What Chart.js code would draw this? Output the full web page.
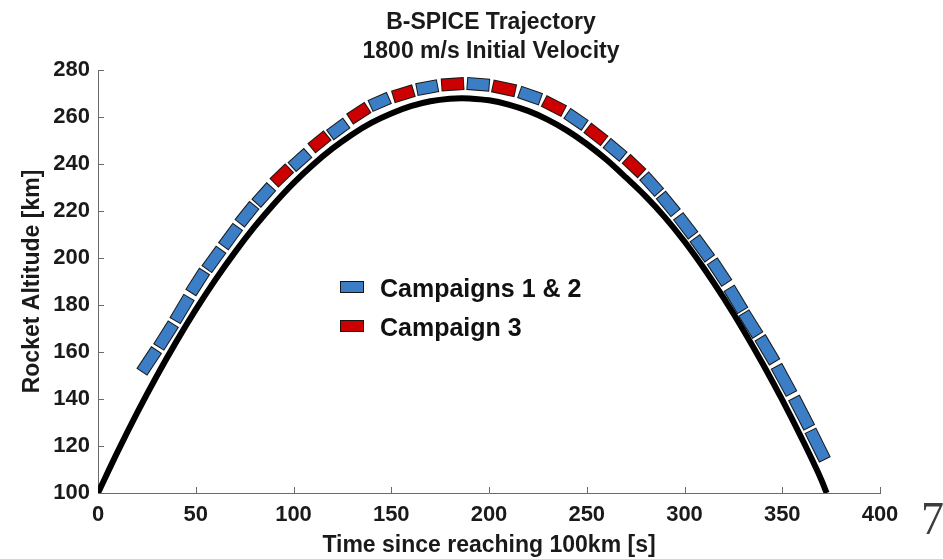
<!DOCTYPE html>
<html>
<head>
<meta charset="utf-8">
<script src="https://cdn.jsdelivr.net/npm/chart.js@4.4.1/dist/chart.umd.min.js"></script>
<style>
  html, body { margin: 0; padding: 0; background: #ffffff; }
  #wrap { position: relative; width: 943px; height: 559px; overflow: hidden; background: #fff; }
  #c { position: absolute; left: 0; top: 0; }
  #slideNo { position: absolute; left: 921px; top: 496px; font-family: "Liberation Serif", "DejaVu Serif", serif;
             font-size: 46px; line-height: 1; color: #3c3c3c; }
</style>
</head>
<body>
<div id="wrap">
  <canvas id="c" width="943" height="559"></canvas>
  <div id="slideNo">7</div>
</div>
<script>
// ---------------- data ----------------
const titleLines = ['B-SPICE Trajectory', '1800 m/s Initial Velocity'];
const xAxisTitle = 'Time since reaching 100km [s]';
const yAxisTitle = 'Rocket Altitude [km]';
const xTicks = [0, 50, 100, 150, 200, 250, 300, 350, 400];
const yTicks = [100, 120, 140, 160, 180, 200, 220, 240, 260, 280];
const seriesLabels = ['Campaigns 1 & 2', 'Campaign 3'];

// black trajectory curve: time [s] and altitude [km]
const trajTime = [0, 10, 20, 30, 40, 50, 60, 70, 80, 90, 100, 110, 120, 130, 140, 150, 160, 170, 180, 186,
                  190, 200, 210, 220, 230, 240, 250, 260, 270, 280, 290, 300, 310, 320, 330, 340, 350, 360, 370, 372.7];
const trajAlt  = [100, 117.5, 134.1, 149.7, 164.3, 178.0, 190.7, 202.4, 213.2, 223.0, 231.9, 239.7, 246.6, 252.6,
                  257.6, 261.5, 264.6, 266.7, 267.8, 268.0, 267.9, 267.1, 265.3, 262.6, 258.9, 254.2, 248.5, 241.9,
                  234.3, 226.3, 217.3, 207.0, 195.5, 183.0, 169.5, 155.0, 139.6, 123.2, 105.6, 100];

// measurement segments (box centres) along the trajectory
const boxTime = [26.2, 34.8, 43.0, 51.0, 59.3, 67.8, 76.2, 84.8, 94.0, 103.3, 113.3, 122.9, 133.4, 144.1, 156.2,
                 168.4, 181.4, 194.5, 207.7, 221.0, 233.2, 244.5, 254.7, 264.5, 274.2, 283.2, 291.7, 300.6, 309.1,
                 317.9, 326.3, 333.9, 342.4, 350.9, 359.9, 368.1];
const boxAlt  = [156.2, 167.0, 178.3, 189.8, 199.4, 209.1, 218.6, 226.8, 235.1, 241.7, 249.4, 254.9, 261.6, 266.4,
                 269.9, 272.5, 273.9, 273.9, 272.2, 269.1, 264.7, 259.0, 252.6, 246.0, 239.1, 231.4, 223.0, 213.7,
                 204.1, 194.0, 182.4, 171.9, 160.9, 148.1, 134.2, 120.4];
// campaign of each segment: 1 = Campaigns 1 & 2, 3 = Campaign 3
const boxCampaign = [1, 1, 1, 1, 1, 1, 1, 1, 3, 1, 3, 1, 3, 1, 3, 1, 3, 1, 3, 1, 3, 1, 3, 1, 3,
                     1, 1, 1, 1, 1, 1, 1, 1, 1, 1, 1];

// ---------------- styling ----------------
const SANS = '"Liberation Sans", Arial, Helvetica, sans-serif';
const campaignColor = { 1: '#3b7ec6', 3: '#cc0000' };
const BOX_THICK = 13;
const BOX_GAP = 3;

function boxGeom(chart, k) {
  const xs = chart.scales.x, ys = chart.scales.y;
  const n = boxTime.length;
  const px = i => xs.getPixelForValue(boxTime[i]);
  const py = i => ys.getPixelForValue(boxAlt[i]);
  const a = Math.max(0, k - 1), b = Math.min(n - 1, k + 1);
  const ang = Math.atan2(py(b) - py(a), px(b) - px(a)) * 180 / Math.PI;
  const d = [];
  if (k > 0) d.push(Math.hypot(px(k) - px(k - 1), py(k) - py(k - 1)));
  if (k < n - 1) d.push(Math.hypot(px(k + 1) - px(k), py(k + 1) - py(k)));
  const avg = d.reduce((s, v) => s + v, 0) / d.length;
  const len = Math.min(avg - BOX_GAP, Math.min(...d) - 2);
  return { ang, len };
}

const imgCache = {};
function boxImage(color, len) {
  const L = Math.max(6, Math.round(len)), T = BOX_THICK;
  const key = color + '_' + L;
  if (imgCache[key]) return imgCache[key];
  const c = document.createElement('canvas');
  c.width = L; c.height = T;
  const g = c.getContext('2d');
  g.fillStyle = color; g.fillRect(0, 0, L, T);
  g.strokeStyle = '#151515'; g.lineWidth = 1; g.strokeRect(0.5, 0.5, L - 1, T - 1);
  imgCache[key] = c;
  return c;
}

function boxDataset(campaign, label) {
  return {
    type: 'scatter',
    label: label,
    data: boxTime.map((t, k) => ({ x: t, y: boxAlt[k], k: k })).filter(p => boxCampaign[p.k] === campaign),
    backgroundColor: campaignColor[campaign],
    borderColor: '#151515',
    pointRadius: 10,
    pointStyle: ctx => {
      const p = ctx.raw;
      if (!p || !ctx.chart.scales.x) return 'rect';
      return boxImage(campaignColor[campaign], boxGeom(ctx.chart, p.k).len);
    },
    pointRotation: ctx => {
      const p = ctx.raw;
      if (!p || !ctx.chart.scales.x) return 0;
      return boxGeom(ctx.chart, p.k).ang;
    }
  };
}

const trajDataset = {
  type: 'line',
  label: 'Trajectory',
  data: trajTime.map((t, i) => ({ x: t, y: trajAlt[i] })),
  borderColor: '#000000',
  borderWidth: 6,
  pointRadius: 0,
  fill: false,
  cubicInterpolationMode: 'monotone',
  borderCapStyle: 'butt'
};

const decorPlugin = {
  id: 'decor',
  beforeDatasetsDraw(chart) {
    const ctx = chart.ctx, ca = chart.chartArea, xs = chart.scales.x, ys = chart.scales.y;
    ctx.save();
    ctx.strokeStyle = '#6a6a6a';
    ctx.lineWidth = 1;
    ctx.beginPath();
    xs.ticks.forEach(t => {
      const x = Math.round(xs.getPixelForValue(t.value)) + 0.5;
      ctx.moveTo(x, Math.round(ca.bottom)); ctx.lineTo(x, Math.round(ca.bottom) - 6);
    });
    ys.ticks.forEach(t => {
      const y = Math.round(ys.getPixelForValue(t.value)) + 0.5;
      ctx.moveTo(Math.round(ca.left), y); ctx.lineTo(Math.round(ca.left) + 6, y);
    });
    ctx.stroke();
    ctx.restore();
  },
  afterDraw(chart) {
    const ctx = chart.ctx, ca = chart.chartArea;
    ctx.save();
    // title
    ctx.fillStyle = '#1a1a1a';
    ctx.font = 'bold 23px ' + SANS;
    ctx.textAlign = 'center';
    ctx.textBaseline = 'alphabetic';
    const cx = (ca.left + ca.right) / 2 + 2;
    ctx.fillText(titleLines[0], cx, 29);
    ctx.fillText(titleLines[1], cx, 58);
    // legend inside the plot
    const ds = chart.data.datasets;
    const items = [ds[1], ds[2]];
    const lx = ca.left + 242, ly0 = 281;
    items.forEach((d, i) => {
      const y = ly0 + i * 39;
      ctx.fillStyle = d.backgroundColor;
      ctx.fillRect(lx, y, 24, 12);
      ctx.strokeStyle = '#151515';
      ctx.lineWidth = 1;
      ctx.strokeRect(lx + 0.5, y + 0.5, 23, 11);
      ctx.fillStyle = '#111111';
      ctx.font = 'bold 25px ' + SANS;
      ctx.textAlign = 'left';
      ctx.textBaseline = 'alphabetic';
      ctx.fillText(d.label, lx + 40, y + 16);
    });
    ctx.restore();
  }
};

new Chart(document.getElementById('c'), {
  type: 'scatter',
  data: { datasets: [trajDataset, boxDataset(1, seriesLabels[0]), boxDataset(3, seriesLabels[1])] },
  options: {
    responsive: false,
    animation: false,
    events: [],
    layout: { padding: { top: 70, right: 63, bottom: 0, left: 0 } },
    plugins: { legend: { display: false }, title: { display: false }, tooltip: { enabled: false } },
    scales: {
      x: {
        type: 'linear', min: 0, max: 400,
        afterBuildTicks: s => { s.ticks = xTicks.map(v => ({ value: v })); },
        afterFit: s => { s.height = 66; },
        ticks: { font: { family: SANS, size: 22, weight: 'bold' }, color: '#1a1a1a', padding: 9, maxRotation: 0, autoSkip: false },
        grid: { display: false, drawTicks: false },
        border: { display: true, color: '#6a6a6a', width: 1 },
        title: { display: true, text: xAxisTitle, color: '#1a1a1a',
                 font: { family: SANS, size: 23, weight: 'bold' }, padding: { top: 0, bottom: 0 } }
      },
      y: {
        type: 'linear', min: 100, max: 280,
        afterBuildTicks: s => { s.ticks = yTicks.map(v => ({ value: v })); },
        afterFit: s => { s.width = 98; },
        ticks: { font: { family: SANS, size: 22, weight: 'bold' }, color: '#1a1a1a', padding: 8, autoSkip: false },
        grid: { display: false, drawTicks: false },
        border: { display: true, color: '#6a6a6a', width: 1 },
        title: { display: true, text: yAxisTitle, color: '#1a1a1a',
                 font: { family: SANS, size: 23, weight: 'bold' }, padding: { top: 19, bottom: 0 } }
      }
    }
  },
  plugins: [decorPlugin]
});
</script>
</body>
</html>
